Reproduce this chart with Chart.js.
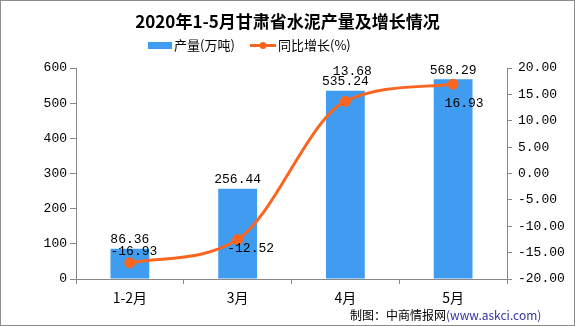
<!DOCTYPE html>
<html lang="zh">
<head>
  <meta charset="UTF-8" />
  <title>2020年1-5月甘肃省水泥产量及增长情况</title>
  <script src="https://cdn.jsdelivr.net/npm/chart.js"></script>
  <style>
    body { margin: 0; padding: 0; background: #fff; }
    #wrap { width: 575px; height: 326px; position: relative; }
  </style>
</head>
<body>
  <div id="wrap"><canvas id="c"></canvas></div>
  <script>
    const months = ['1-2月', '3月', '4月', '5月'];
    const output = [86.36, 256.44, 535.24, 568.29];
    const growth = [-16.93, -12.52, 13.68, 16.93];
    const leftTicks = [0, 100, 200, 300, 400, 500, 600];
    const rightTicks = [-20, -15, -10, -5, 0, 5, 10, 15, 20];

    const BLUE = '#3f9cf0';
    const ORANGE = '#fa6620';
    const numFont = '13px "Liberation Mono", "DejaVu Sans Mono", monospace';
    const cjkFont = '"Noto Sans CJK SC", "Noto Sans", sans-serif';

    // label offsets relative to the mark (dx, dy)
    const barLabelOff = [[0, -9], [0, -9], [0, -9], [0, -9]];
    const lineLabelOff = [[4, -11], [13, 9], [7, -30], [11, 19]];

    const decor = {
      id: 'decor',
      afterDraw(chart) {
        const ctx = chart.ctx;
        const W = chart.width, H = chart.height;
        ctx.save();
        // border
        ctx.strokeStyle = '#8c8c8c';
        ctx.lineWidth = 1;
        ctx.strokeRect(0.5, 0.5, W - 1, H - 1);

        // title
        ctx.fillStyle = '#000';
        ctx.textAlign = 'center';
        ctx.textBaseline = 'middle';
        ctx.font = 'bold 17px ' + cjkFont;
        ctx.fillText('2020年1-5月甘肃省水泥产量及增长情况', W / 2, 22);

        // legend
        ctx.font = '13px ' + cjkFont;
        ctx.textAlign = 'left';
        ctx.fillStyle = BLUE;
        ctx.fillRect(148, 42, 24, 7);
        ctx.fillStyle = '#000';
        ctx.fillText('产量(万吨)', 174, 45);
        ctx.strokeStyle = ORANGE;
        ctx.lineWidth = 3;
        ctx.beginPath();
        ctx.moveTo(250, 45.5);
        ctx.lineTo(276, 45.5);
        ctx.stroke();
        ctx.fillStyle = ORANGE;
        ctx.beginPath();
        ctx.arc(263, 45.5, 3.5, 0, Math.PI * 2);
        ctx.fill();
        ctx.fillStyle = '#000';
        ctx.fillText('同比增长(%)', 278, 45);

        // data labels
        ctx.font = numFont;
        ctx.textAlign = 'center';
        const barMeta = chart.getDatasetMeta(0);
        barMeta.data.forEach((el, i) => {
          ctx.fillText(output[i].toFixed(2), el.x + barLabelOff[i][0], el.y + barLabelOff[i][1]);
        });
        const lineMeta = chart.getDatasetMeta(1);
        lineMeta.data.forEach((el, i) => {
          ctx.fillText(growth[i].toFixed(2), el.x + lineLabelOff[i][0], el.y + lineLabelOff[i][1]);
        });

        // source
        ctx.font = '12px ' + cjkFont;
        ctx.textAlign = 'left';
        ctx.fillStyle = '#000';
        const src1 = '制图：中商情报网';
        ctx.fillText(src1, 350, 315);
        const w1 = ctx.measureText(src1).width;
        ctx.fillStyle = '#3333a0';
        ctx.fillText('(www.askci.com)', 350 + w1, 315);
        ctx.restore();
      }
    };

    new Chart(document.getElementById('c'), {
      data: {
        labels: months,
        datasets: [
          {
            type: 'bar',
            label: '产量(万吨)',
            data: output,
            backgroundColor: BLUE,
            yAxisID: 'y',
            barPercentage: 0.72,
            categoryPercentage: 0.5,
            order: 2
          },
          {
            type: 'line',
            label: '同比增长(%)',
            data: growth,
            borderColor: ORANGE,
            backgroundColor: ORANGE,
            borderWidth: 3,
            pointRadius: 4,
            pointHoverRadius: 4,
            cubicInterpolationMode: 'monotone',
            yAxisID: 'y1',
            order: 1
          }
        ]
      },
      options: {
        responsive: true,
        maintainAspectRatio: false,
        animation: false,
        layout: { padding: { top: 68, left: 0, right: 0, bottom: 0 } },
        plugins: {
          legend: { display: false },
          title: { display: false },
          tooltip: { enabled: false }
        },
        scales: {
          x: {
            offset: true,
            grid: { offset: true, drawOnChartArea: false, color: '#888', tickLength: 5 },
            border: { color: '#888' },
            ticks: { color: '#000', padding: 5, font: { family: cjkFont, size: 14 } },
            afterFit(s) { s.height = 47; }
          },
          y: {
            position: 'left',
            min: 0,
            max: 600,
            afterBuildTicks(s) { s.ticks = leftTicks.map(v => ({ value: v })); },
            grid: { drawOnChartArea: false, color: '#888', tickLength: 6 },
            border: { color: '#888' },
            ticks: { color: '#000', padding: 3, font: { family: '"Liberation Mono", monospace', size: 13 } },
            afterFit(s) { s.width = 76; }
          },
          y1: {
            position: 'right',
            min: -20,
            max: 20,
            afterBuildTicks(s) { s.ticks = rightTicks.map(v => ({ value: v })); },
            grid: { drawOnChartArea: false, color: '#888', tickLength: 5 },
            border: { color: '#888' },
            ticks: {
              color: '#000',
              padding: 6,
              font: { family: '"Liberation Mono", monospace', size: 13 },
              callback: v => v.toFixed(2)
            },
            afterFit(s) { s.width = 68; }
          }
        }
      },
      plugins: [decor]
    });
  </script>
</body>
</html>
